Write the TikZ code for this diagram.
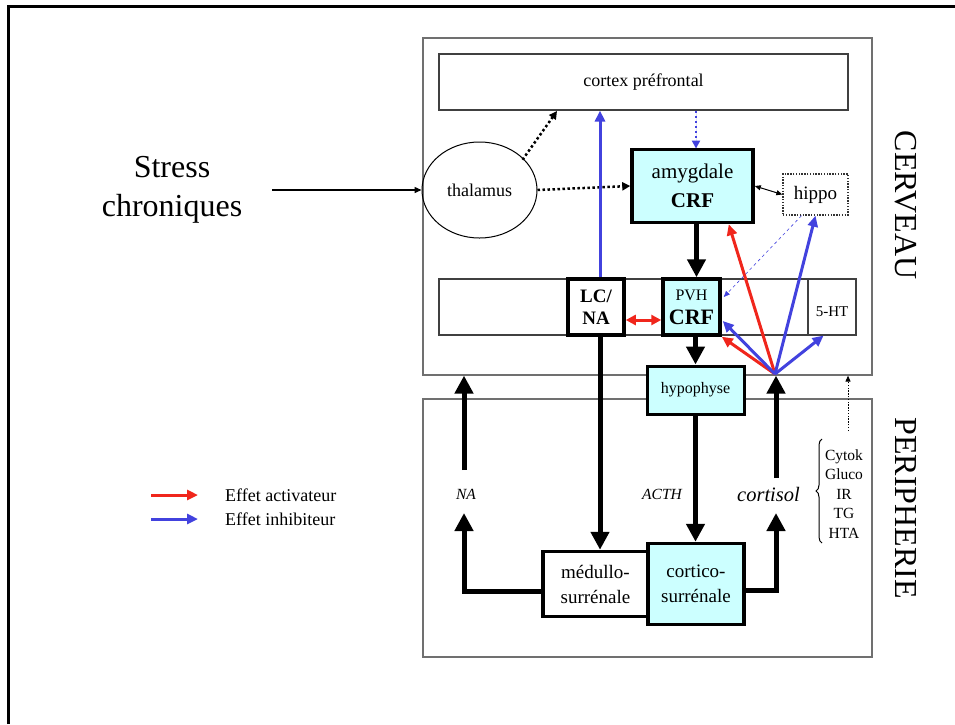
\documentclass[tikz,border=0pt]{standalone}
\usepackage{fontspec}
\setmainfont{Liberation Serif}
\usetikzlibrary{arrows.meta,calc,decorations.pathreplacing,shapes.geometric}

\definecolor{actred}{RGB}{240,38,28}
\definecolor{inhblue}{RGB}{66,66,222}
\definecolor{cellcyan}{RGB}{204,255,255}
\definecolor{zonegray}{RGB}{112,112,112}

\tikzset{
  fsz/.style 2 args={font=\fontsize{#1}{#2}\selectfont},
  zone/.style={draw=zonegray, line width=1.2pt, inner sep=0pt},
  strip/.style={draw=black!75, line width=1.1pt, inner sep=0pt},
  cell/.style={draw=black, line width=3.5pt, inner sep=0pt, align=center},
  bigarrow/.style={line width=5pt, -{Triangle[length=18pt,width=18pt]}},
  actarrow/.style={draw=actred, line width=3pt, -{Triangle[length=11pt,width=10pt]}},
  inharrow/.style={draw=inhblue, line width=3pt, -{Triangle[length=11pt,width=10pt]}},
  dotarrow/.style={line width=2.5pt, dash pattern=on 2.5pt off 2.5pt, -{Triangle[length=8pt,width=8pt]}},
  finedots/.style={dash pattern=on 1.4pt off 1.4pt},
  thinarrow/.style={line width=1.4pt, -{Triangle[length=7pt,width=6pt]}},
  lbl/.style={inner sep=0pt, align=center},
}

\begin{document}
\begin{tikzpicture}[x=1pt,y=-1pt]
\useasboundingbox (0,0) rectangle (955,724);

% slide frame
\draw[line width=3pt] (8,724) -- (8,6.5) -- (955,6.5);

% the two zones
\node[zone, minimum width=449, minimum height=337] (cerveau) at (647.5,206.5) {};
\node[zone, minimum width=449, minimum height=258] (periph) at (647.5,528) {};
\node[lbl, fsz={32}{38}, rotate=-90] (cervlbl) at (906,205) {CERVEAU};
\node[lbl, fsz={32}{38}, rotate=-90] (perilbl) at (906,508) {PERIPHERIE};

% brain structures
\node[strip, minimum width=409, minimum height=56, fsz={18}{22}] (cortex) at (643.5,82) {cortex préfrontal};
\node[ellipse, draw=black, line width=1pt, minimum width=115, minimum height=96, inner sep=0pt, fsz={18}{22}] (thal) at (479.5,190) {thalamus};
\node[cell, fill=cellcyan, minimum width=121, minimum height=73, fsz={21}{29}] (amyg) at (692.5,186) {amygdale\\\textbf{CRF}};
\node[draw=black!80, line width=1.3pt, finedots, minimum width=65, minimum height=41, inner sep=0pt, fsz={19}{22}] (hippo) at (815.5,194.5) {hippo};

% brainstem strip with its cells
\node[strip, minimum width=417, minimum height=56] (band) at (647.5,307) {};
\draw[black!75, line width=1.1pt] (band.north -| 808,0) -- (band.south -| 808,0);
\node[lbl, fsz={15}{18}] (serot) at (832,312) {5-HT};
\node[cell, fill=white, minimum width=56, minimum height=56, font=\bfseries\fontsize{19}{22}\selectfont] (lcna) at (596,307) {LC/\\NA};
\node[cell, fill=cellcyan, minimum width=57, minimum height=56, fsz={16}{24}] (pvh) at (691.5,307) {PVH\\{\bfseries\fontsize{22}{24}\selectfont CRF}};

% hypophysis and adrenal glands
\node[cell, line width=3pt, fill=cellcyan, minimum width=97, minimum height=48, fsz={16}{20}] (hyp) at (695.5,390) {hypophyse};
\node[cell, fill=white, minimum width=105, minimum height=65, fsz={19}{25}] (med) at (595.5,584) {médullo-\\surrénale};
\node[cell, fill=cellcyan, minimum width=96, minimum height=81, fsz={19}{25}] (cort) at (696,584) {cortico-\\surrénale};

% hormone labels
\node[lbl, font=\itshape\fontsize{15.5}{18}\selectfont] (na) at (466,494) {NA};
\node[lbl, font=\itshape\fontsize{15.5}{18}\selectfont] (acth) at (662,494) {ACTH};
\node[lbl, font=\itshape\fontsize{20.5}{24}\selectfont] (cortisol) at (768.5,494) {cortisol};
\node[lbl, fsz={15.5}{19.4}] (risks) at (844,494) {Cytok\\Gluco\\IR\\TG\\HTA};
\draw[line width=1pt, decorate, decoration={brace, amplitude=6pt}] (822,543) -- (822,439);

% input
\node[lbl, fsz={32}{39}] (stress) at (172,190) {Stress\\chroniques};
\draw[thinarrow] (272,190) -- (thal.west);

% thalamic projections
\draw[dotarrow] (thal.north east) ++(2,4) -- (557,111);
\draw[dotarrow] (thal.east) -- (amyg.west);
\draw[dotarrow, draw=inhblue, fill=inhblue, line width=2.2pt] (amyg.north |- cortex.south) ++(3.5,0) -- ++(0,38);
\draw[line width=1pt, {Triangle[length=6pt,width=5pt]}-{Triangle[length=6pt,width=5pt]}] (amyg.east) -- (hippo.west);

% main axis
\coordinate (axtop) at ($(amyg.south)+(4,0)$);
\draw[bigarrow] (axtop) -- (axtop |- pvh.north);
\draw[bigarrow] (hyp.north |- pvh.south) -- (hyp.north);
\draw[bigarrow] (hyp.south) -- (hyp.south |- cort.north);

% locus coeruleus
\coordinate (lctop) at ($(lcna.north)+(4,0)$);
\coordinate (lcbot) at ($(lcna.south)+(4,0)$);
\draw[inhblue, line width=3pt, -{Triangle[length=11pt,width=10pt]}] (lctop) -- (lctop |- cortex.south);
\draw[bigarrow] (lcbot) -- (lcbot |- med.north);
\draw[draw=actred, line width=3pt, {Triangle[length=10pt,width=10pt]}-{Triangle[length=10pt,width=10pt]}] ($(lcna.east)+(0,13)$) -- ($(pvh.west)+(0,13)$);

% peripheral outputs
\coordinate (natip) at ($(na)+(-2,19)$);
\coordinate (nabase) at ($(na)+(-2,-24)$);
\draw[bigarrow] ($(med.west)+(0,7)$) -| (natip);
\draw[bigarrow] (nabase) -- (nabase |- cerveau.south);
\coordinate (cotip) at ($(cortisol)+(7.5,19)$);
\coordinate (cobase) at ($(cortisol)+(7.5,-16)$);
\draw[bigarrow] ($(cort.east)+(0,6)$) -| (cotip);
\draw[bigarrow] (cobase) -- (cobase |- cerveau.south);
\coordinate (riskup) at (848,431);
\draw[line width=1pt, finedots, -{Triangle[length=6pt,width=5pt]}] (riskup) -- (riskup |- cerveau.south);

% cortisol feedback fan
\coordinate (fan) at (775,374);
\draw[actarrow] (fan) -- ($(amyg.south east)+(-26,0)$);
\draw[actarrow] (fan) -- (pvh.south east);
\draw[inharrow] (fan) -- ($(pvh.east)+(1,14)$);
\draw[inharrow] (fan) -- (hippo.south);
\draw[inharrow] (fan) -- ($(band.south east)+(-33,0)$);
\draw[inhblue, line width=0.6pt, dashed, -{Triangle[length=6pt,width=5pt]}] ($(hippo.south)+(-14,0)$) -- ($(pvh.east)+(2,-10)$);

% legend
\coordinate (la1) at (151,495);
\coordinate (la2) at (151,519);
\draw[actarrow] (la1) -- ++(47,0);
\draw[inharrow] (la2) -- ++(47,0);
\node[lbl, anchor=west, fsz={18}{22}] (leg1) at (225,495) {Effet activateur};
\node[lbl, anchor=west, fsz={18}{22}] (leg2) at (225,519) {Effet inhibiteur};
\end{tikzpicture}
\end{document}
